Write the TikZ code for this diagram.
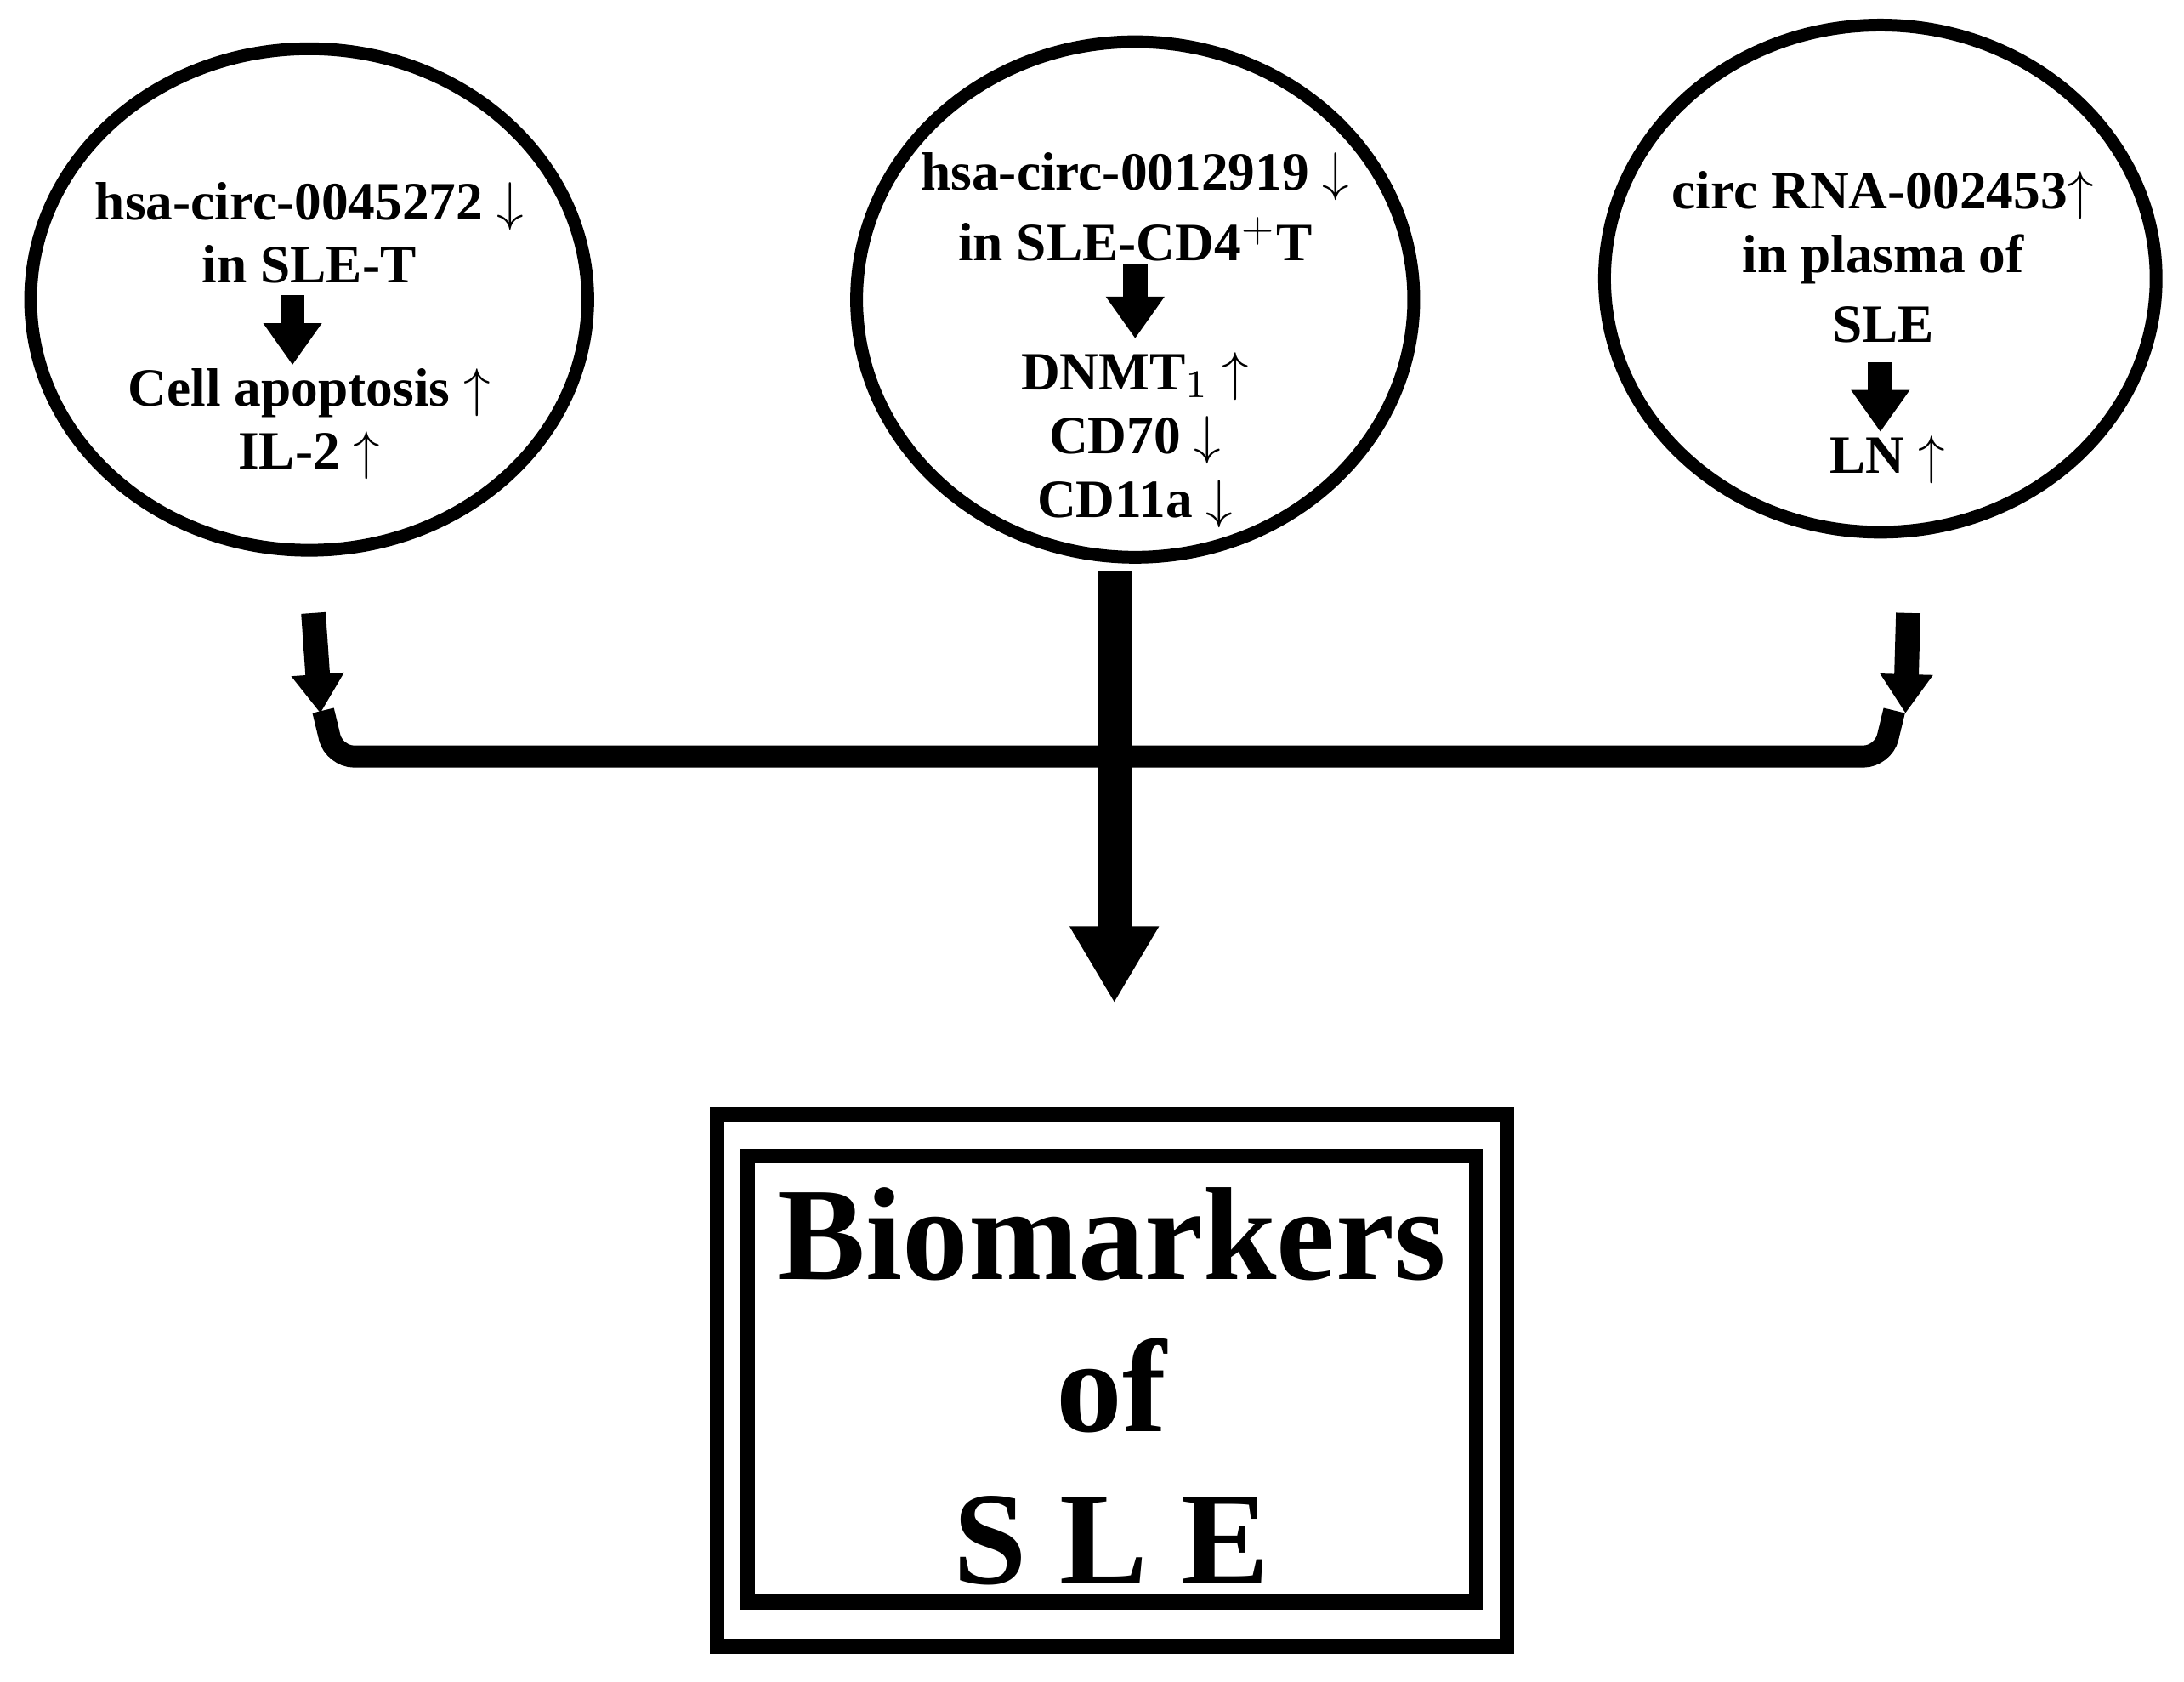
\documentclass[tikz,border=0pt]{standalone}
\usepackage{fontspec}
\setmainfont{Liberation Serif}
\usetikzlibrary{arrows.meta}
\begin{document}
\begin{tikzpicture}[x=0.01cm,y=-0.01cm,
 txt/.style={font=\bfseries\fontsize{11}{11}\selectfont,inner sep=0},
 small/.style={-{Triangle[length=0.3cm,width=0.4cm]},line width=5pt},
 side/.style={line width=5pt,-{Triangle[length=0.28cm,width=0.36cm]}}]
\useasboundingbox (0,0) rectangle (1568,1207);
\draw[line width=2.6pt] (222,215) ellipse (200 and 180);
\draw[line width=2.6pt] (815,215) ellipse (200 and 185);
\draw[line width=2.6pt] (1350,200) ellipse (198 and 182);
% circle 1
\node[txt] (a1) at (222,148) {hsa-circ-0045272 $\downarrow$};
\node[txt] (a2) at (222,190) {in SLE-T};
\node[txt] (a3) at (222,282) {Cell apoptosis $\uparrow$};
\node[txt] (a4) at (222,327) {IL-2 $\uparrow$};
\coordinate (a5) at (210,212); \coordinate (a6) at (210,262);
\draw[small] (a5) -- (a6);
% circle 2
\node[txt] (b1) at (815,127) {hsa-circ-0012919 $\downarrow$};
\node[txt] (b2) at (815,172) {in SLE-CD4$^{+}$T};
\node[txt] (b3) at (815,270) {DNMT$_1$ $\uparrow$};
\node[txt] (b4) at (815,316) {CD70 $\downarrow$};
\node[txt] (b5) at (815,362) {CD11a $\downarrow$};
\coordinate (b6) at (815,190); \coordinate (b7) at (815,243);
\draw[small] (b6) -- (b7);
% circle 3
\node[txt] (c1) at (1352,140) {circ RNA-002453$\uparrow$};
\node[txt] (c2) at (1352,186) {in plasma of};
\node[txt] (c3) at (1352,233) {SLE};
\node[txt] (c4) at (1355,330) {LN $\uparrow$};
\coordinate (c5) at (1350,260); \coordinate (c6) at (1350,310);
\draw[small] (c5) -- (c6);
% connectors
\coordinate (l1) at (225,440); \coordinate (l2) at (230,512);
\coordinate (r1) at (1370,440); \coordinate (r2) at (1368,512);
\draw[side] (l1) -- (l2);
\draw[side] (r1) -- (r2);
\coordinate (h1) at (232,510); \coordinate (h2) at (1360,510);
\draw[line width=4.5pt,rounded corners=4pt] (h1) -- (240,543) -- (1352,543) -- (h2);
\coordinate (m1) at (800,410); \coordinate (m2) at (800,720);
\draw[line width=7pt,-{Triangle[length=0.55cm,width=0.6cm]}] (m1) -- (m2);
% box
\draw[line width=3pt] (515,800) rectangle (1082,1182);
\draw[line width=3pt] (537,830) rectangle (1060,1150);
\node[font=\bfseries\fontsize{27}{31}\selectfont,align=center,inner sep=0] (bm) at (798,995) {Biomarkers\\of\\S L E};
\end{tikzpicture}
\end{document}
